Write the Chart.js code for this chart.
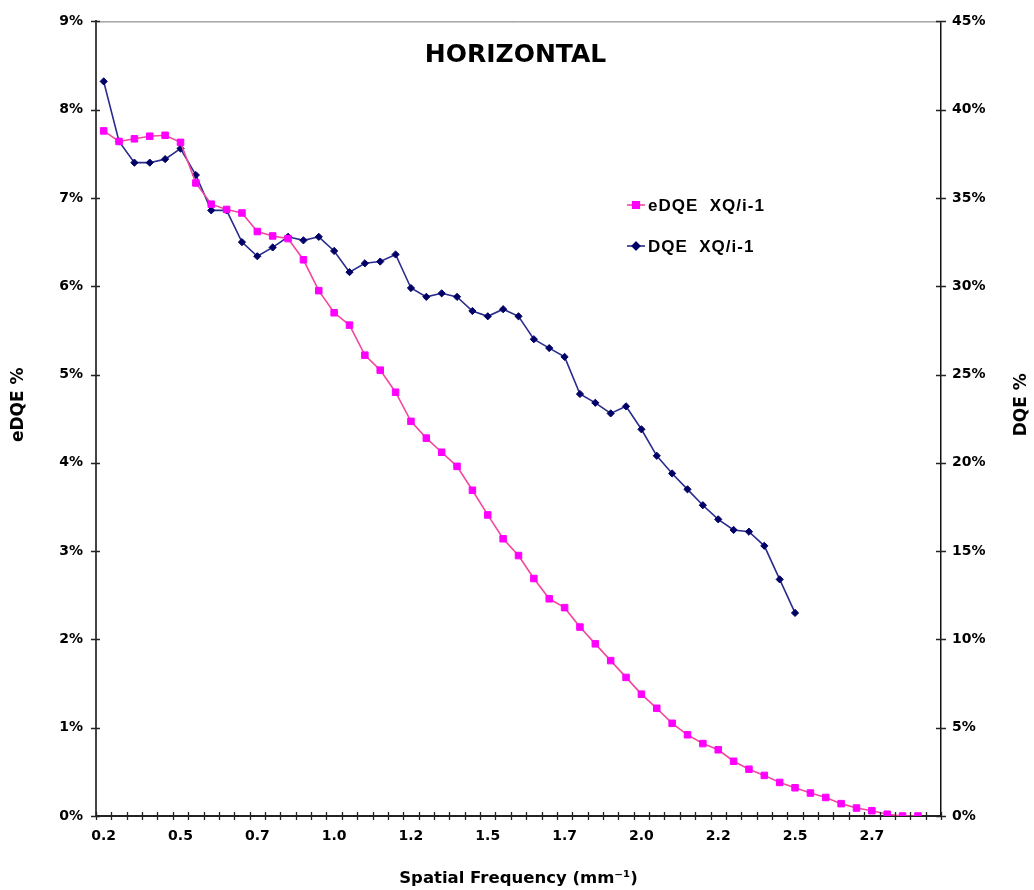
<!DOCTYPE html>
<html>
<head>
<meta charset="utf-8">
<script src="https://cdn.jsdelivr.net/npm/chart.js@4/dist/chart.umd.min.js"></script>
<style>
  body { margin: 0; background: #fff; }
</style>
</head>
<body>
<canvas id="chart" width="1034" height="890"></canvas>
<script>
// spatial frequency categories (mm^-1)
const freqs = [
  0.20, 0.25, 0.30, 0.35, 0.40, 0.45, 0.50, 0.55, 0.60, 0.65,
  0.70, 0.75, 0.80, 0.85, 0.90, 0.95, 1.00, 1.05, 1.10, 1.15,
  1.20, 1.25, 1.30, 1.35, 1.40, 1.45, 1.50, 1.55, 1.60, 1.65,
  1.70, 1.75, 1.80, 1.85, 1.90, 1.95, 2.00, 2.05, 2.10, 2.15,
  2.20, 2.25, 2.30, 2.35, 2.40, 2.45, 2.50, 2.55, 2.60, 2.65,
  2.70, 2.75, 2.80, 2.85, 2.90
];
// labels shown under every 5th category
const freqTickLabels = ["0.2", "0.5", "0.7", "1.0", "1.2", "1.5", "1.7", "2.0", "2.2", "2.5", "2.7"];

// eDQE XQ/i-1 (%), left axis
const edqe = [
  7.76, 7.64, 7.67, 7.70, 7.71, 7.63, 7.17, 6.93, 6.87, 6.83,
  6.62, 6.57, 6.54, 6.30, 5.95, 5.70, 5.56, 5.22, 5.05, 4.80,
  4.47, 4.28, 4.12, 3.96, 3.69, 3.41, 3.14, 2.95, 2.69, 2.46,
  2.36, 2.14, 1.95, 1.76, 1.57, 1.38, 1.22, 1.05, 0.92, 0.82,
  0.75, 0.62, 0.53, 0.46, 0.38, 0.32, 0.26, 0.21, 0.14, 0.09,
  0.06, 0.02, 0.00, 0.00
];
// DQE XQ/i-1 (%), right axis
const dqe = [
  41.6, 38.2, 37.0, 37.0, 37.2, 37.8, 36.3, 34.3, 34.3, 32.5,
  31.7, 32.2, 32.8, 32.6, 32.8, 32.0, 30.8, 31.3, 31.4, 31.8,
  29.9, 29.4, 29.6, 29.4, 28.6, 28.3, 28.7, 28.3, 27.0, 26.5,
  26.0, 23.9, 23.4, 22.8, 23.2, 21.9, 20.4, 19.4, 18.5, 17.6,
  16.8, 16.2, 16.1, 15.3, 13.4, 11.5
];

const FONT = "'DejaVu Sans', Verdana, sans-serif";

// title, legend, y axis titles, crossing tick marks, top border
const decorations = {
  id: "decorations",
  afterDraw(chart) {
    const ctx = chart.ctx;
    const area = chart.chartArea;
    const x = chart.scales.x;
    const yl = chart.scales.y;
    const yr = chart.scales.y2;
    ctx.save();

    // top border of plot area
    ctx.strokeStyle = "#777";
    ctx.lineWidth = 1;
    ctx.beginPath();
    ctx.moveTo(area.left, area.top + 0.5);
    ctx.lineTo(area.right, area.top + 0.5);
    ctx.stroke();

    // cross tick marks
    ctx.strokeStyle = "#222";
    ctx.lineWidth = 1.3;
    ctx.beginPath();
    for (let i = 0; i <= freqs.length; i++) {
      const px = Math.round(x.getPixelForValue(i - 0.5)) + 0.5;
      ctx.moveTo(px, area.bottom - 4);
      ctx.lineTo(px, area.bottom + 4);
    }
    yl.ticks.forEach((t) => {
      const py = Math.round(yl.getPixelForValue(t.value)) + 0.5;
      ctx.moveTo(area.left - 5, py);
      ctx.lineTo(area.left + 4, py);
    });
    yr.ticks.forEach((t) => {
      const py = Math.round(yr.getPixelForValue(t.value)) + 0.5;
      ctx.moveTo(area.right - 5, py);
      ctx.lineTo(area.right + 5, py);
    });
    ctx.stroke();

    // chart title inside the plot
    ctx.fillStyle = "#000";
    ctx.font = "bold 25px " + FONT;
    ctx.textAlign = "center";
    ctx.textBaseline = "middle";
    ctx.fillText("HORIZONTAL", (area.left + area.right) / 2 - 3, area.top + 34);

    // y axis titles, both reading bottom to top
    const midY = (area.top + area.bottom) / 2 - 14;
    [["eDQE %", 19], ["DQE %", 1022]].forEach(([txt, tx]) => {
      ctx.save();
      ctx.translate(tx, midY);
      ctx.rotate(-Math.PI / 2);
      ctx.font = "bold 17px " + FONT;
      ctx.fillText(txt, 0, 0);
      ctx.restore();
    });

    // legend
    ctx.font = "bold 17px 'Liberation Sans', Arial, sans-serif";
    ctx.letterSpacing = "1px";
    ctx.textAlign = "left";
    const rows = [205, 246];
    chart.data.datasets.forEach((ds, i) => {
      const ly = rows[i];
      ctx.strokeStyle = ds.borderColor;
      ctx.lineWidth = ds.borderWidth;
      ctx.beginPath();
      ctx.moveTo(627, ly);
      ctx.lineTo(645, ly);
      ctx.stroke();
      Chart.helpers.drawPoint(ctx, {
        pointStyle: ds.pointStyle,
        radius: ds.pointRadius,
        borderWidth: ds.pointBorderWidth
      }, 636, ly);
      ctx.fillStyle = ds.pointBackgroundColor;
      ctx.strokeStyle = ds.pointBorderColor;
      ctx.fill();
      ctx.stroke();
      ctx.fillStyle = "#000";
      ctx.fillText(ds.label, 648, ly + 1);
    });
    ctx.restore();
  }
};

new Chart(document.getElementById("chart"), {
  type: "line",
  data: {
    labels: freqs,
    datasets: [
      {
        label: "eDQE  XQ/i-1",
        data: edqe,
        yAxisID: "y",
        borderColor: "#f2489e",
        borderWidth: 1.6,
        pointStyle: "rect",
        pointRadius: 4.6,
        pointBorderWidth: 1,
        pointBackgroundColor: "#ff00ff",
        pointBorderColor: "#ff00ff",
        tension: 0
      },
      {
        label: "DQE  XQ/i-1",
        data: dqe,
        yAxisID: "y2",
        borderColor: "#2a2c8e",
        borderWidth: 1.6,
        pointStyle: "rectRot",
        pointRadius: 3.6,
        pointBorderWidth: 1,
        pointBackgroundColor: "#000066",
        pointBorderColor: "#000066",
        tension: 0
      }
    ]
  },
  options: {
    responsive: false,
    animation: false,
    layout: { padding: { top: 15, left: 0, right: 0, bottom: 0 } },
    plugins: {
      legend: { display: false },
      tooltip: { enabled: false }
    },
    scales: {
      x: {
        type: "category",
        offset: true,
        grid: { display: false, drawTicks: false, offset: true },
        border: { display: true, color: "#222", width: 2 },
        ticks: {
          autoSkip: false,
          maxRotation: 0,
          padding: 12,
          color: "#000",
          font: { family: FONT, size: 14, weight: "bold" },
          callback: (val, index) => (index % 5 === 0 ? freqTickLabels[index / 5] : "")
        },
        title: {
          display: true,
          text: "Spatial Frequency (mm⁻¹)",
          color: "#000",
          font: { family: FONT, size: 16.5, weight: "bold" },
          padding: { top: 0, bottom: 1 }
        },
        afterFit: (s) => { s.height = 74; }
      },
      y: {
        position: "left",
        min: 0,
        max: 9,
        grid: { display: false, drawTicks: false },
        border: { display: true, color: "#444", width: 2 },
        ticks: {
          stepSize: 1,
          padding: 13,
          color: "#000",
          font: { family: FONT, size: 14, weight: "bold" },
          callback: (v) => v + "%"
        },
        afterFit: (s) => { s.width = 96; }
      },
      y2: {
        position: "right",
        min: 0,
        max: 45,
        grid: { display: false, drawTicks: false },
        border: { display: true, color: "#111", width: 1.5 },
        ticks: {
          stepSize: 5,
          padding: 11,
          color: "#000",
          font: { family: FONT, size: 14, weight: "bold" },
          callback: (v) => v + "%"
        },
        afterFit: (s) => { s.width = 93; }
      }
    }
  },
  plugins: [decorations]
});
</script>
</body>
</html>
